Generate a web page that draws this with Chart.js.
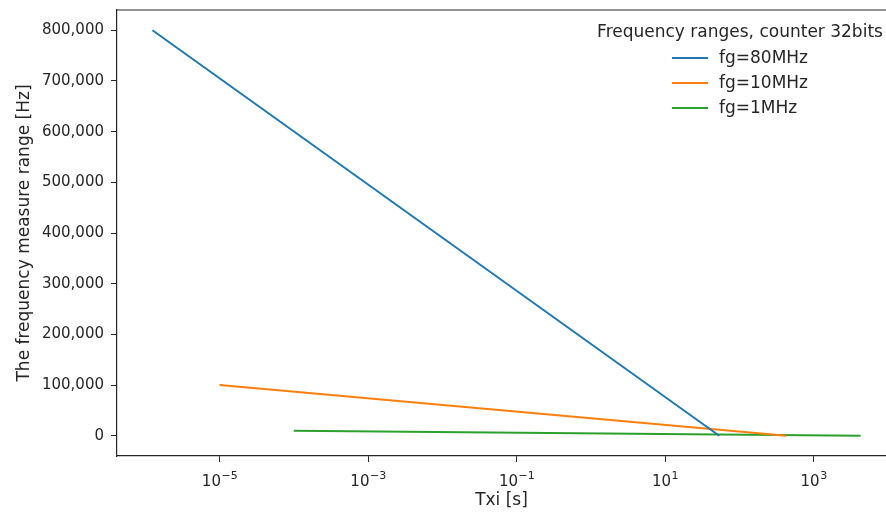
<!DOCTYPE html>
<html>
<head>
<meta charset="utf-8">
<script src="https://cdn.jsdelivr.net/npm/chart.js@4/dist/chart.umd.min.js"></script>
<style>
  html, body { margin: 0; padding: 0; background: #fff; overflow: hidden; }
  canvas { display: block; }
</style>
</head>
<body>
<canvas id="c" width="886" height="512"></canvas>
<script>
// Measurable frequency range of a 32-bit counter vs. gate time Txi
const seriesLabels = ['fg=80MHz', 'fg=10MHz', 'fg=1MHz'];
const seriesColors = ['#1f77b4', '#ff7f0e', '#2ca02c'];

// Txi [s] endpoints: shortest gate time, and the counter overflow time 2^32 / fg
const txi80 = [1.25e-6, 53.687];
const txi10 = [1e-5, 429.5];
const txi1  = [1e-4, 4295];

// Frequency measure range [Hz] at those endpoints
const range80 = [800000, 0];
const range10 = [100000, 0];
const range1  = [10000, 0];

// x ticks: base and exponent of each decade label
const xTickValues = [1e-5, 1e-3, 1e-1, 1e1, 1e3];
const xTickExponents = ['\u22125', '\u22123', '\u22121', '1', '3'];
const yTickValues = [0, 100000, 200000, 300000, 400000, 500000, 600000, 700000, 800000];

const legendTitle = 'Frequency ranges, counter 32bits';
const FONT = "'DejaVu Sans', sans-serif";
const INK = '#262626';

function pts(xs, ys) { return xs.map((x, i) => ({ x: x, y: ys[i] })); }

const xs = [txi80, txi10, txi1];
const ys = [range80, range10, range1];

const datasets = seriesLabels.map((lab, i) => ({
  label: lab,
  data: pts(xs[i], ys[i]),
  borderColor: seriesColors[i],
  backgroundColor: seriesColors[i],
  borderWidth: 2,
  pointRadius: 0,
  fill: false,
  tension: 0
}));

// top frame line, decade labels with raised exponents, and the in-plot legend
const decoPlugin = {
  id: 'deco',
  afterDraw(chart) {
    const { ctx, chartArea: a } = chart;
    const xScale = chart.scales.x;
    ctx.save();
    ctx.strokeStyle = INK;
    ctx.lineWidth = 1.2;
    ctx.beginPath();
    ctx.moveTo(a.left, a.top); ctx.lineTo(a.right, a.top);
    ctx.stroke();

    // x tick labels: "10" with a superscript exponent
    ctx.fillStyle = INK;
    ctx.textBaseline = 'alphabetic';
    ctx.textAlign = 'left';
    xTickValues.forEach((v, i) => {
      const px = xScale.getPixelForValue(v);
      ctx.font = '15px ' + FONT;
      const wb = ctx.measureText('10').width;
      ctx.font = '11px ' + FONT;
      const we = ctx.measureText(xTickExponents[i]).width;
      const x0 = px - (wb + we) / 2;
      ctx.font = '15px ' + FONT;
      ctx.fillText('10', x0, a.bottom + 30);
      ctx.font = '11px ' + FONT;
      ctx.fillText(xTickExponents[i], x0 + wb + 0.5, a.bottom + 23);
    });

    // legend
    ctx.font = '17px ' + FONT;
    ctx.fillStyle = INK;
    ctx.textBaseline = 'middle';
    ctx.textAlign = 'center';
    ctx.fillText(legendTitle, 740, 33);
    ctx.textAlign = 'left';
    const rowY = [58, 83, 108];
    chart.data.datasets.forEach((ds, i) => {
      ctx.strokeStyle = ds.borderColor;
      ctx.lineWidth = 2;
      ctx.beginPath();
      ctx.moveTo(672, rowY[i]); ctx.lineTo(708, rowY[i]);
      ctx.stroke();
      ctx.fillStyle = INK;
      ctx.fillText(ds.label, 719, rowY[i] + 1);
    });
    ctx.restore();
  }
};

new Chart(document.getElementById('c'), {
  type: 'line',
  data: { datasets: datasets },
  options: {
    responsive: false,
    animation: false,
    layout: { padding: { top: 10, right: 0, left: 0, bottom: 0 } },
    plugins: { legend: { display: false }, tooltip: { enabled: false } },
    scales: {
      x: {
        type: 'logarithmic',
        min: Math.pow(10, -6.38),
        max: Math.pow(10, 3.975),
        afterBuildTicks(axis) { axis.ticks = xTickValues.map(v => ({ value: v })); },
        afterFit(axis) { axis.height = 56; axis.paddingLeft = 0; axis.paddingRight = 0; },
        ticks: {
          color: INK,
          font: { family: FONT, size: 15 },
          maxRotation: 0,
          autoSkip: false,
          callback() { return ''; }
        },
        grid: { drawOnChartArea: false, drawTicks: true, tickLength: 6, tickColor: INK, tickWidth: 1 },
        border: { display: true, color: INK, width: 1.2 },
        title: { display: true, text: 'Txi [s]', color: INK, font: { family: FONT, size: 17 }, padding: { top: 0, bottom: 1 } }
      },
      y: {
        type: 'linear',
        min: -40000,
        max: 840000,
        afterBuildTicks(axis) { axis.ticks = yTickValues.map(v => ({ value: v })); },
        afterFit(axis) { axis.width = 117; axis.paddingTop = 0; axis.paddingBottom = 0; },
        ticks: {
          color: INK,
          font: { family: FONT, size: 15 },
          padding: 7,
          callback(v) { return v.toLocaleString('en-US'); }
        },
        grid: { drawOnChartArea: false, drawTicks: true, tickLength: 6, tickColor: INK, tickWidth: 1 },
        border: { display: true, color: INK, width: 1.2 },
        title: { display: true, text: 'The frequency measure range [Hz]', color: INK, font: { family: FONT, size: 17 }, padding: { top: 14, bottom: 0 } }
      }
    }
  },
  plugins: [decoPlugin]
});
</script>
</body>
</html>
